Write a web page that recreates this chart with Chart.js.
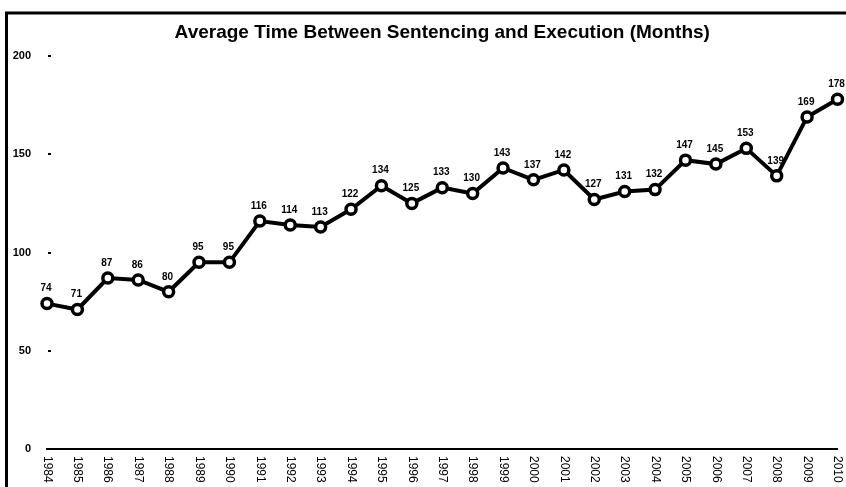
<!DOCTYPE html>
<html>
<head>
<meta charset="utf-8">
<script src="https://cdn.jsdelivr.net/npm/chart.js@4/dist/chart.umd.min.js"></script>
<style>
  body { margin: 0; background: #fff; }
  canvas { display: block; }
</style>
</head>
<body>
<canvas id="chart" width="846" height="487"></canvas>
<script>
const years = ['1984', '1985', '1986', '1987', '1988', '1989', '1990', '1991', '1992', '1993',
  '1994', '1995', '1996', '1997', '1998', '1999', '2000', '2001', '2002', '2003',
  '2004', '2005', '2006', '2007', '2008', '2009', '2010'];
const months = [74, 71, 87, 86, 80, 95, 95, 116, 114, 113,
  122, 134, 125, 133, 130, 143, 137, 142, 127, 131,
  132, 147, 145, 153, 139, 169, 178];
const yTicks = [0, 50, 100, 150, 200];

// frame lines, y dashes, vertical year labels, point values
const extras = {
  id: 'extras',
  beforeDraw(chart) {
    const ctx = chart.ctx;
    ctx.save();
    ctx.fillStyle = '#fff';
    ctx.fillRect(0, 0, chart.width, chart.height);
    ctx.strokeStyle = '#000';
    ctx.lineWidth = 3;
    ctx.beginPath();
    ctx.moveTo(6.5, chart.height);
    ctx.lineTo(6.5, 13);
    ctx.lineTo(chart.width, 13);
    ctx.stroke();
    ctx.restore();
  },
  afterDraw(chart) {
    const ctx = chart.ctx;
    const x = chart.scales.x;
    const y = chart.scales.y;
    ctx.save();
    ctx.fillStyle = '#000';
    // little dash next to each y label
    yTicks.forEach(v => {
      if (v === 0) return;
      ctx.fillRect(x.left + 1, Math.round(y.getPixelForValue(v)) - 1, 3, 2);
    });
    // year labels, turned clockwise
    ctx.font = '12px "Liberation Sans", Arial, sans-serif';
    ctx.textAlign = 'left';
    ctx.textBaseline = 'middle';
    years.forEach((yr, i) => {
      const px = x.getPixelForValue(i);
      ctx.save();
      ctx.translate(px, y.bottom + 7);
      ctx.rotate(Math.PI / 2);
      ctx.fillText(yr, 0, 0);
      ctx.restore();
    });
    // values above the points
    ctx.font = 'bold 10px "Liberation Sans", Arial, sans-serif';
    ctx.textAlign = 'center';
    ctx.textBaseline = 'middle';
    const meta = chart.getDatasetMeta(0);
    meta.data.forEach((pt, i) => {
      ctx.fillText(String(months[i]), pt.x - 1, pt.y - 15);
    });
    ctx.restore();
  }
};

new Chart(document.getElementById('chart'), {
  type: 'line',
  data: {
    labels: years,
    datasets: [{
      data: months,
      borderColor: '#000',
      borderWidth: 4,
      pointRadius: 5,
      pointBorderWidth: 3.5,
      pointBackgroundColor: '#fff',
      pointBorderColor: '#000',
      tension: 0
    }]
  },
  options: {
    responsive: false,
    animation: false,
    layout: { padding: { left: 0, right: 8, top: 0, bottom: 0 } },
    plugins: {
      legend: { display: false },
      tooltip: { enabled: false },
      title: {
        display: true,
        fullSize: false,
        text: 'Average Time Between Sentencing and Execution (Months)',
        color: '#000',
        font: { family: '"Liberation Sans", Arial, sans-serif', size: 19, weight: 'bold' },
        padding: { top: 21, bottom: 12.2 }
      }
    },
    scales: {
      x: {
        offset: false,
        grid: { display: false },
        border: { display: true, color: '#000', width: 2 },
        ticks: { display: false },
        afterFit(scale) { scale.height = 38; }
      },
      y: {
        min: 0,
        max: 200,
        afterBuildTicks(scale) { scale.ticks = yTicks.map(v => ({ value: v })); },
        grid: { display: false },
        border: { display: false },
        ticks: {
          color: '#000',
          padding: 8,
          font: { family: '"Liberation Sans", Arial, sans-serif', size: 11, weight: 'bold' }
        },
        afterFit(scale) { scale.width = 47; }
      }
    }
  },
  plugins: [extras]
});
</script>
</body>
</html>
